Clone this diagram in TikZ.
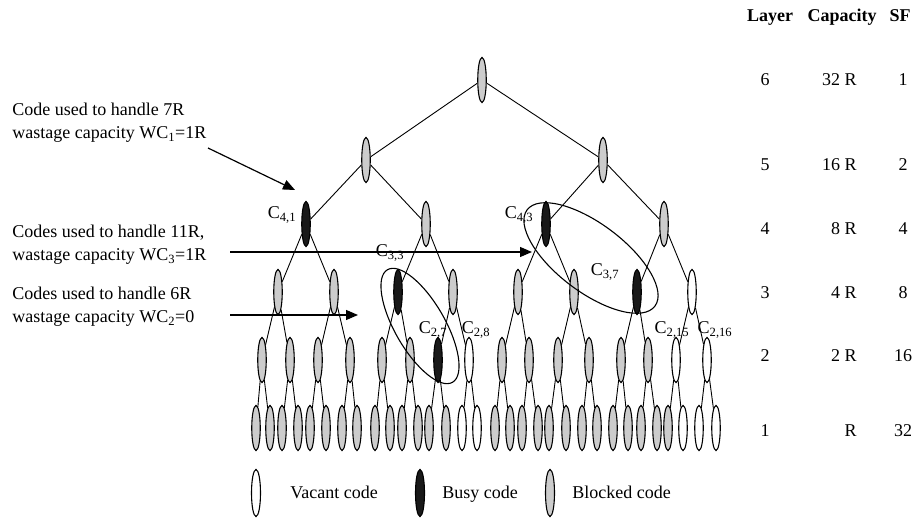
\documentclass[tikz,border=0pt]{standalone}
\usepackage{fontspec}
\setmainfont{Liberation Serif}
\usetikzlibrary{arrows.meta,shapes.geometric}
\begin{document}
\begin{tikzpicture}[x=1pt,y=-1pt,line width=.9pt,
codenode/.style={ellipse,draw,line width=1.1pt,minimum width=8.5pt,minimum height=45pt,inner sep=0pt},
blocked/.style={codenode,fill=gray!40},
busy/.style={codenode,fill=black!90},
vacant/.style={codenode,fill=white},
lbl/.style={anchor=base,inner sep=0pt,font=\fontsize{18}{22}\selectfont},
txt/.style={anchor=north west,inner sep=0pt,align=left,font=\fontsize{18}{22.5}\selectfont},
hdr/.style={anchor=base,inner sep=0pt,font=\fontsize{18}{22}\selectfont\bfseries},
legtxt/.style={anchor=base west,inner sep=0pt,font=\fontsize{18}{22}\selectfont},
arr/.style={-{Triangle[length=12pt,width=10pt]},line width=1.2pt},
ring/.style={line width=1.1pt}]
\path[use as bounding box] (0,0) rectangle (919,518);
\node[blocked] (c6-1) at (482,80) {};
\node[blocked] (c5-1) at (366,160) {};
\node[blocked] (c5-2) at (603,160) {};
\node[busy] (c4-1) at (306,224) {};
\node[blocked] (c4-2) at (426,224) {};
\node[busy] (c4-3) at (546,224) {};
\node[blocked] (c4-4) at (664,224) {};
\node[blocked] (c3-1) at (278,292) {};
\node[blocked] (c3-2) at (334,292) {};
\node[busy] (c3-3) at (398,292) {};
\node[blocked] (c3-4) at (453,292) {};
\node[blocked] (c3-5) at (518,292) {};
\node[blocked] (c3-6) at (574,292) {};
\node[busy] (c3-7) at (637,292) {};
\node[vacant] (c3-8) at (692,292) {};
\node[blocked] (c2-1) at (262,360) {};
\node[blocked] (c2-2) at (290,360) {};
\node[blocked] (c2-3) at (318,360) {};
\node[blocked] (c2-4) at (350,360) {};
\node[blocked] (c2-5) at (382,360) {};
\node[blocked] (c2-6) at (410,360) {};
\node[busy] (c2-7) at (438,360) {};
\node[vacant] (c2-8) at (469,360) {};
\node[blocked] (c2-9) at (502,360) {};
\node[blocked] (c2-10) at (529,360) {};
\node[blocked] (c2-11) at (558,360) {};
\node[blocked] (c2-12) at (589,360) {};
\node[blocked] (c2-13) at (621,360) {};
\node[blocked] (c2-14) at (648,360) {};
\node[vacant] (c2-15) at (676,360) {};
\node[vacant] (c2-16) at (707,360) {};
\node[blocked] (c1-1) at (256,428) {};
\node[blocked] (c1-2) at (270,428) {};
\node[blocked] (c1-3) at (282,428) {};
\node[blocked] (c1-4) at (298,428) {};
\node[blocked] (c1-5) at (310,428) {};
\node[blocked] (c1-6) at (326,428) {};
\node[blocked] (c1-7) at (342,428) {};
\node[blocked] (c1-8) at (357,428) {};
\node[blocked] (c1-9) at (375,428) {};
\node[blocked] (c1-10) at (390,428) {};
\node[blocked] (c1-11) at (402,428) {};
\node[blocked] (c1-12) at (418,428) {};
\node[blocked] (c1-13) at (429,428) {};
\node[blocked] (c1-14) at (446,428) {};
\node[vacant] (c1-15) at (462,428) {};
\node[vacant] (c1-16) at (477,428) {};
\node[blocked] (c1-17) at (495,428) {};
\node[blocked] (c1-18) at (510,428) {};
\node[blocked] (c1-19) at (522,428) {};
\node[blocked] (c1-20) at (538,428) {};
\node[blocked] (c1-21) at (549,428) {};
\node[blocked] (c1-22) at (566,428) {};
\node[blocked] (c1-23) at (582,428) {};
\node[blocked] (c1-24) at (597,428) {};
\node[blocked] (c1-25) at (613,428) {};
\node[blocked] (c1-26) at (628,428) {};
\node[blocked] (c1-27) at (641,428) {};
\node[blocked] (c1-28) at (657,428) {};
\node[blocked] (c1-29) at (668,428) {};
\node[vacant] (c1-30) at (683,428) {};
\node[vacant] (c1-31) at (699,428) {};
\node[vacant] (c1-32) at (716,428) {};
\draw (c6-1) -- (c5-1) (c6-1) -- (c5-2);
\draw (c5-1) -- (c4-1) (c5-1) -- (c4-2);
\draw (c5-2) -- (c4-3) (c5-2) -- (c4-4);
\draw (c4-1) -- (c3-1) (c4-1) -- (c3-2);
\draw (c4-2) -- (c3-3) (c4-2) -- (c3-4);
\draw (c4-3) -- (c3-5) (c4-3) -- (c3-6);
\draw (c4-4) -- (c3-7) (c4-4) -- (c3-8);
\draw (c3-1) -- (c2-1) (c3-1) -- (c2-2);
\draw (c3-2) -- (c2-3) (c3-2) -- (c2-4);
\draw (c3-3) -- (c2-5) (c3-3) -- (c2-6);
\draw (c3-4) -- (c2-7) (c3-4) -- (c2-8);
\draw (c3-5) -- (c2-9) (c3-5) -- (c2-10);
\draw (c3-6) -- (c2-11) (c3-6) -- (c2-12);
\draw (c3-7) -- (c2-13) (c3-7) -- (c2-14);
\draw (c3-8) -- (c2-15) (c3-8) -- (c2-16);
\draw (c2-1) -- (c1-1) (c2-1) -- (c1-2);
\draw (c2-2) -- (c1-3) (c2-2) -- (c1-4);
\draw (c2-3) -- (c1-5) (c2-3) -- (c1-6);
\draw (c2-4) -- (c1-7) (c2-4) -- (c1-8);
\draw (c2-5) -- (c1-9) (c2-5) -- (c1-10);
\draw (c2-6) -- (c1-11) (c2-6) -- (c1-12);
\draw (c2-7) -- (c1-13) (c2-7) -- (c1-14);
\draw (c2-8) -- (c1-15) (c2-8) -- (c1-16);
\draw (c2-9) -- (c1-17) (c2-9) -- (c1-18);
\draw (c2-10) -- (c1-19) (c2-10) -- (c1-20);
\draw (c2-11) -- (c1-21) (c2-11) -- (c1-22);
\draw (c2-12) -- (c1-23) (c2-12) -- (c1-24);
\draw (c2-13) -- (c1-25) (c2-13) -- (c1-26);
\draw (c2-14) -- (c1-27) (c2-14) -- (c1-28);
\draw (c2-15) -- (c1-29) (c2-15) -- (c1-30);
\draw (c2-16) -- (c1-31) (c2-16) -- (c1-32);
\node[lbl] (l4-1) at (282,219) {C\textsubscript{4,1}};
\node[lbl] (l4-3) at (519,219) {C\textsubscript{4,3}};
\node[lbl] (l3-3) at (390,257) {C\textsubscript{3,3}};
\node[lbl] (l3-7) at (605,276) {C\textsubscript{3,7}};
\node[lbl] (l2-7) at (433,334) {C\textsubscript{2,7}};
\node[lbl] (l2-8) at (476,334) {C\textsubscript{2,8}};
\node[lbl] (l2-15) at (672,334) {C\textsubscript{2,15}};
\node[lbl] (l2-16) at (715,334) {C\textsubscript{2,16}};
\draw[ring,rotate around={-60:(420,326)}] (420,326) ellipse [x radius=65pt,y radius=25pt];
\draw[ring,rotate around={-37:(591,258)}] (591,258) ellipse [x radius=80pt,y radius=34pt];
\node[txt] (t7r) at (12,103) {Code used to handle 7R\\wastage capacity WC\textsubscript{1}=1R};
\node[txt] (t11r) at (12,225) {Codes used to handle 11R,\\wastage capacity WC\textsubscript{3}=1R};
\node[txt] (t6r) at (12,287) {Codes used to handle 6R\\wastage capacity WC\textsubscript{2}=0};
\coordinate (a7s) at (208,148);
\coordinate (a7e) at (295,190);
\coordinate (a11s) at (230,252);
\coordinate (a11e) at (532,252);
\coordinate (a6s) at (230,315);
\coordinate (a6e) at (358,315);
\draw[arr] (a7s) -- (a7e);
\draw[arr] (a11s) -- (a11e);
\draw[arr] (a6s) -- (a6e);
\node[hdr] (hl) at (770,22) {Layer};
\node[hdr] (hc) at (842,22) {Capacity};
\node[hdr] (hs) at (900,22) {SF};
\node[lbl] (r6l) at (765,86) {6};
\node[lbl,anchor=base east] (r6c) at (857,86) {32 R};
\node[lbl] (r6s) at (903,86) {1};
\node[lbl] (r5l) at (765,171) {5};
\node[lbl,anchor=base east] (r5c) at (857,171) {16 R};
\node[lbl] (r5s) at (903,171) {2};
\node[lbl] (r4l) at (765,235) {4};
\node[lbl,anchor=base east] (r4c) at (857,235) {8 R};
\node[lbl] (r4s) at (903,235) {4};
\node[lbl] (r3l) at (765,299) {3};
\node[lbl,anchor=base east] (r3c) at (857,299) {4 R};
\node[lbl] (r3s) at (903,299) {8};
\node[lbl] (r2l) at (765,362) {2};
\node[lbl,anchor=base east] (r2c) at (857,362) {2 R};
\node[lbl] (r2s) at (903,362) {16};
\node[lbl] (r1l) at (765,437) {1};
\node[lbl,anchor=base east] (r1c) at (857,437) {R};
\node[lbl] (r1s) at (903,437) {32};
\node[vacant,minimum width=9pt,minimum height=47pt] (kv) at (256,493) {};
\node[legtxt] (kvt) at (290,499) {Vacant code};
\node[busy,minimum width=9pt,minimum height=47pt] (kb) at (420,493) {};
\node[legtxt] (kbt) at (442,499) {Busy code};
\node[blocked,minimum width=9pt,minimum height=47pt] (kk) at (550,493) {};
\node[legtxt] (kkt) at (572,499) {Blocked code};
\end{tikzpicture}
\end{document}
